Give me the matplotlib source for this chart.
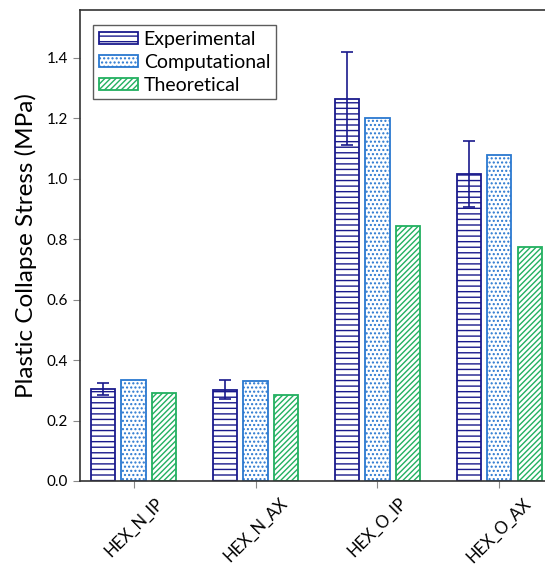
import numpy as np
import matplotlib
matplotlib.use("Agg")
import matplotlib.pyplot as plt

plt.rcParams['font.family'] = ['Lato', 'DejaVu Sans']
plt.rcParams['hatch.linewidth'] = 1.0

# data
categories = ["HEX_N_IP", "HEX_N_AX", "HEX_O_IP", "HEX_O_AX"]
experimental = [0.305, 0.302, 1.265, 1.015]
experimental_err = [0.020, 0.032, 0.155, 0.110]
computational = [0.335, 0.330, 1.200, 1.080]
theoretical = [0.292, 0.283, 0.845, 0.775]
series_names = ["Experimental", "Computational", "Theoretical"]

fig = plt.figure(figsize=(5.45, 5.70), dpi=100)
ax = fig.add_axes([80 / 545, 89 / 570, 1.0 - 80 / 545 + 0.01, 471 / 570])

x = np.arange(len(categories))
w = 0.2
off = 0.25

ax.bar(x - off, experimental, w, facecolor='white', edgecolor='#1a1a8c',
       hatch='---', linewidth=1.3, label=series_names[0], zorder=2)
ax.errorbar(x - off, experimental, yerr=experimental_err, fmt='none',
            ecolor='#1a1a8c', elinewidth=1.2, capsize=4, capthick=1.2, zorder=3)
ax.bar(x, computational, w, facecolor='white', edgecolor='#2a78d0',
       hatch='....', linewidth=1.3, label=series_names[1], zorder=2)
ax.bar(x + off, theoretical, w, facecolor='white', edgecolor='#22b060',
       hatch='//////', linewidth=1.3, label=series_names[2], zorder=2)

ax.set_xlim(-0.44, 3.42)
ax.set_ylim(0, 1.558)
ax.set_yticks(np.arange(0, 1.41, 0.2))
ax.set_yticklabels([f"{v:.1f}" for v in np.arange(0, 1.41, 0.2)], fontsize=11)
ax.set_xticks(x)
ax.set_xticklabels(categories, rotation=45, ha='center', fontsize=12)
ax.tick_params(axis='both', direction='out', length=5, color='#888888')
ax.tick_params(axis='x', pad=5)

for s in ['left', 'bottom', 'top']:
    ax.spines[s].set_color('#333333')
    ax.spines[s].set_linewidth(1.2)
ax.spines['right'].set_visible(False)

ax.set_ylabel("Plastic Collapse Stress (MPa)", fontsize=17.5, labelpad=7)

leg = ax.legend(loc='upper left', bbox_to_anchor=(0.028, 0.968), fontsize=14,
                frameon=True, fancybox=False, edgecolor='#333333',
                handlelength=2.0, handleheight=0.6, handletextpad=0.3,
                labelspacing=0.3, borderpad=0.3, borderaxespad=0)
leg.get_frame().set_linewidth(1.0)

fig.savefig("out.png", dpi=100)
